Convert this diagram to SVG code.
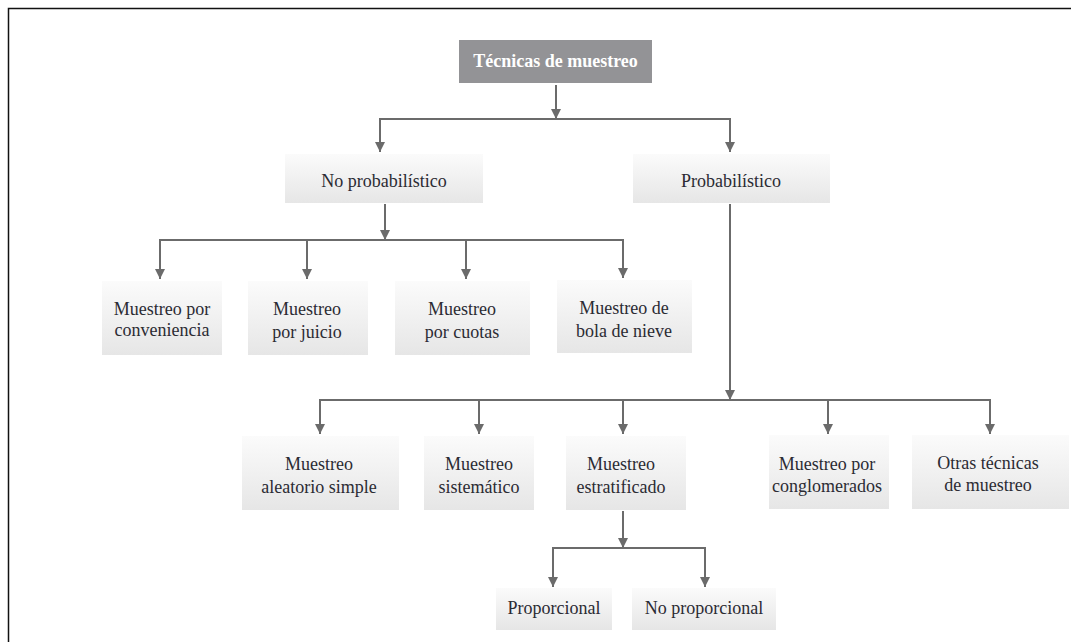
<svg xmlns="http://www.w3.org/2000/svg" width="1071" height="642" viewBox="0 0 1071 642">
<defs>
<linearGradient id="bg" x1="0" y1="0" x2="0" y2="1">
<stop offset="0" stop-color="#fbfbfb"/>
<stop offset="1" stop-color="#e6e6e6"/>
</linearGradient>
<marker id="ah" markerWidth="10" markerHeight="10" refX="10" refY="5" orient="auto" markerUnits="userSpaceOnUse" viewBox="0 0 10 10">
<path d="M0,0 L10,5 L0,10 Z" fill="#6b6b6b"/>
</marker>
<style>
.box{fill:url(#bg);}
.t{font-family:"Liberation Serif","Times New Roman",serif;font-size:18px;fill:#2b2b33;text-anchor:middle;}
.title{font-family:"Liberation Serif","Times New Roman",serif;font-size:18px;font-weight:bold;fill:#ffffff;text-anchor:middle;}
.c{fill:none;stroke:#6b6b6b;stroke-width:2;}
.a{fill:none;stroke:#6b6b6b;stroke-width:2;marker-end:url(#ah);}
</style>
</defs>
<rect width="1071" height="642" fill="#ffffff"/>
<path d="M8.5,642 V8.5 H1071" fill="none" stroke="#111" stroke-width="1.5"/>

<g id="connectors">
<line class="a" x1="556" y1="85" x2="556" y2="119"/>
<path class="c" d="M380,145 V119 H730 V145"/>
<line class="a" x1="380" y1="119" x2="380" y2="152"/>
<line class="a" x1="730" y1="119" x2="730" y2="152"/>

<line class="a" x1="385" y1="204" x2="385" y2="240"/>
<path class="c" d="M160,270 V240 H623 V270"/>
<line class="a" x1="160" y1="240" x2="160" y2="279"/>
<line class="a" x1="307" y1="240" x2="307" y2="279"/>
<line class="a" x1="466" y1="240" x2="466" y2="279"/>
<line class="a" x1="623" y1="240" x2="623" y2="278"/>

<line class="a" x1="730" y1="204" x2="730" y2="400"/>
<path class="c" d="M320,425 V400 H990 V425"/>
<line class="a" x1="320" y1="400" x2="320" y2="434"/>
<line class="a" x1="479" y1="400" x2="479" y2="434"/>
<line class="a" x1="623" y1="400" x2="623" y2="434"/>
<line class="a" x1="828" y1="400" x2="828" y2="434"/>
<line class="a" x1="990" y1="400" x2="990" y2="434"/>

<line class="a" x1="623" y1="511" x2="623" y2="548"/>
<path class="c" d="M553,578 V548 H705 V578"/>
<line class="a" x1="553" y1="548" x2="553" y2="587"/>
<line class="a" x1="705" y1="548" x2="705" y2="587"/>
</g>

<g id="root">
<rect x="459" y="40" width="193" height="43" fill="#939396"/>
<text class="title" x="555.5" y="67">Técnicas de muestreo</text>
</g>

<g id="no-probabilistico">
<rect class="box" x="285" y="154" width="198" height="49"/>
<text class="t" x="384" y="187">No probabilístico</text>
</g>
<g id="probabilistico">
<rect class="box" x="633" y="154" width="197" height="49"/>
<text class="t" x="731" y="187">Probabilístico</text>
</g>

<g id="conveniencia">
<rect class="box" x="102" y="281" width="120" height="74"/>
<text class="t" x="162" y="315">Muestreo por</text>
<text class="t" x="162" y="336">conveniencia</text>
</g>
<g id="juicio">
<rect class="box" x="248" y="281" width="120" height="74"/>
<text class="t" x="307" y="315">Muestreo</text>
<text class="t" x="307" y="338">por juicio</text>
</g>
<g id="cuotas">
<rect class="box" x="395" y="281" width="135" height="74"/>
<text class="t" x="462" y="315">Muestreo</text>
<text class="t" x="462" y="338">por cuotas</text>
</g>
<g id="bola-de-nieve">
<rect class="box" x="557" y="280" width="135" height="73"/>
<text class="t" x="624" y="314">Muestreo de</text>
<text class="t" x="624" y="337">bola de nieve</text>
</g>

<g id="aleatorio">
<rect class="box" x="242" y="436" width="157" height="74"/>
<text class="t" x="319" y="470">Muestreo</text>
<text class="t" x="319" y="493">aleatorio simple</text>
</g>
<g id="sistematico">
<rect class="box" x="424" y="436" width="110" height="74"/>
<text class="t" x="479" y="470">Muestreo</text>
<text class="t" x="479" y="493">sistemático</text>
</g>
<g id="estratificado">
<rect class="box" x="566" y="436" width="120" height="74"/>
<text class="t" x="621" y="470">Muestreo</text>
<text class="t" x="621" y="493">estratificado</text>
</g>
<g id="conglomerados">
<rect class="box" x="769" y="435" width="120" height="74"/>
<text class="t" x="827" y="470">Muestreo por</text>
<text class="t" x="827" y="492">conglomerados</text>
</g>
<g id="otras">
<rect class="box" x="912" y="435" width="157" height="74"/>
<text class="t" x="988" y="469">Otras técnicas</text>
<text class="t" x="988" y="491">de muestreo</text>
</g>

<g id="proporcional">
<rect class="box" x="496" y="588" width="116" height="42"/>
<text class="t" x="554" y="614">Proporcional</text>
</g>
<g id="no-proporcional">
<rect class="box" x="632" y="588" width="144" height="42"/>
<text class="t" x="704" y="614">No proporcional</text>
</g>
</svg>
